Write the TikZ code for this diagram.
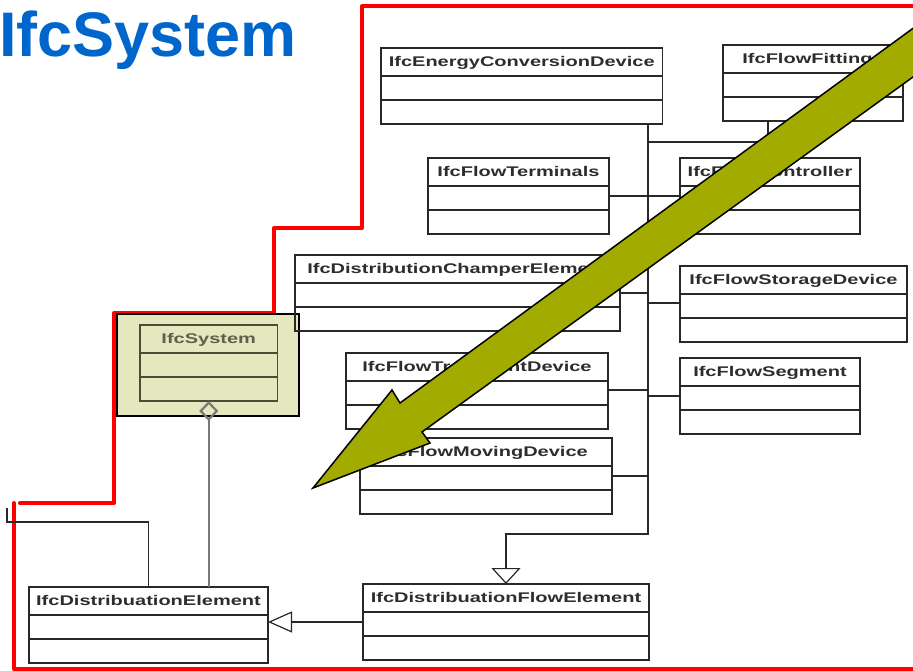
\documentclass[tikz,border=0pt]{standalone}
\usepackage{fontspec}
\newfontfamily\umlfont{Liberation Sans}[FakeStretch=1.43]
\newfontfamily\titlefont{Liberation Sans}
\usetikzlibrary{arrows.meta,calc}

\definecolor{titleblue}{RGB}{0,102,204}
\definecolor{umlline}{RGB}{40,40,40}
\definecolor{umltext}{RGB}{45,45,45}
\definecolor{khaki}{RGB}{229,232,190}
\definecolor{olivearrow}{RGB}{161,171,0}
\definecolor{sysline}{RGB}{75,75,55}
\definecolor{systext}{RGB}{95,95,75}
\definecolor{aggline}{RGB}{120,120,120}
\colorlet{boxcol}{umlline}
\colorlet{textcol}{umltext}

\tikzset{
  classbox/.style={draw=boxcol, line width=1.3pt, rectangle, inner sep=0pt,
    outer sep=0pt, minimum height=76pt, anchor=north west},
  divider/.style={draw=boxcol, line width=1.5pt},
  classname/.style={font=\umlfont\bfseries\fontsize{14}{16}\selectfont,
    text=textcol, anchor=base, inner sep=0pt},
  link/.style={draw=umlline, line width=1.2pt},
  frame/.style={draw=red, line width=4pt, line cap=round, line join=round},
  highlight/.style={draw=black, line width=1.3pt, fill=khaki, inner sep=0pt,
    outer sep=0pt, anchor=north west},
}

% #1 node name, #2 left x, #3 top y, #4 width, #5 class name
\newcommand\umlclass[5]{%
  \node[classbox, minimum width=#4pt] (#1) at (#2,#3) {};
  \draw[divider] ([yshift=-28pt]#1.north west) -- ([yshift=-28pt]#1.north east);
  \draw[divider] ([yshift=-52pt]#1.north west) -- ([yshift=-52pt]#1.north east);
  \node[classname] (#1-title) at ([yshift=-18.5pt]#1.north) {#5};
}

\begin{document}
\begin{tikzpicture}[x=1pt, y=-1pt]
\useasboundingbox (0,0) rectangle (913,671);

% title
\node[anchor=base west, inner sep=0pt, text=titleblue,
  font=\titlefont\bfseries\fontsize{63}{70}\selectfont] (title) at (-1,57) {IfcSystem};

% red outline around the distribution classes
\draw[frame] (920,6.5) -- (362,6.5) -- (362,228) -- (274,228) -- (274,313)
  -- (114,313) -- (114,503) -- (20,503);
\draw[frame] (14,503) -- (14,669) -- (920,669);

% highlighted IfcSystem
\node[highlight, minimum width=182pt, minimum height=102pt] (syshl) at (117,314) {};
\begin{scope}
  \colorlet{boxcol}{sysline}\colorlet{textcol}{systext}
  \umlclass{sys}{140}{325}{137.5}{IfcSystem}
\end{scope}

% classes
\umlclass{ecd}{381}{48}{281.5}{IfcEnergyConversionDevice}
\umlclass{fit}{723}{45}{180}{IfcFlowFittings}
\umlclass{term}{428}{158}{181}{IfcFlowTerminals}
\umlclass{ctrl}{680}{158}{180}{IfcFlowController}
\umlclass{dce}{295}{255}{325}{IfcDistributionChamperElement}
\umlclass{sto}{680}{266}{227}{IfcFlowStorageDevice}
\umlclass{tre}{346}{353}{262}{IfcFlowTreatmentDevice}
\umlclass{seg}{680}{358}{180}{IfcFlowSegment}
\umlclass{mov}{360}{438}{252}{IfcFlowMovingDevice}
\umlclass{dfe}{363}{584}{286}{IfcDistribuationFlowElement}
\umlclass{de}{29}{587}{239}{IfcDistribuationElement}

% bus joining the flow element subtypes
\coordinate (busbend) at (648,534);
\coordinate (fitjoin) at (648,142);
\coordinate (stub) at (7,508);
\coordinate (dceport) at ([yshift=-38pt]dce.north east);
\coordinate (stoport) at ([yshift=-37pt]sto.north west);
\coordinate (treport) at ([yshift=-37pt]tre.north east);
\coordinate (segport) at ([yshift=-38pt]seg.north west);
\coordinate (movport) at ([yshift=-38pt]mov.north east);
\coordinate (dfeport) at ([yshift=-38pt]dfe.north west);

\draw[link, -{Triangle[open, length=16pt, width=29pt]}]
  (busbend |- ecd.south) -- (busbend) -| (dfe.north);
\draw[link] ([xshift=-45pt]fit.south) |- (fitjoin);
\draw[link] ([yshift=-38pt]term.north east) -- ([yshift=-38pt]ctrl.north west);
\draw[link] (dceport) -- (dceport -| busbend);
\draw[link] (stoport) -- (stoport -| busbend);
\draw[link] (treport) -- (treport -| busbend);
\draw[link] (segport) -- (segport -| busbend);
\draw[link] (movport) -- (movport -| busbend);

% generalization and aggregation
\draw[link, -{Triangle[open, length=24pt, width=21pt]}] (dfeport) -- (dfeport -| de.east);
\draw[draw=aggline, line width=2.2pt, {Diamond[open, length=20pt, width=19pt]}-]
  (sys.south) -- (sys.south |- de.north);
\draw[link] (stub) |- ([yshift=65pt]de.north) -- (de.north);

% big pointer arrow
\begin{scope}
  \clip (0,0) rectangle (913,671);
  \draw[fill=olivearrow, line width=1.5pt, line join=miter]
    (960,-6) -- (400,403) -- (392,390) -- (313,488) -- (430,443) -- (422,432)
    -- (960,43) -- cycle;
\end{scope}
\end{tikzpicture}
\end{document}
